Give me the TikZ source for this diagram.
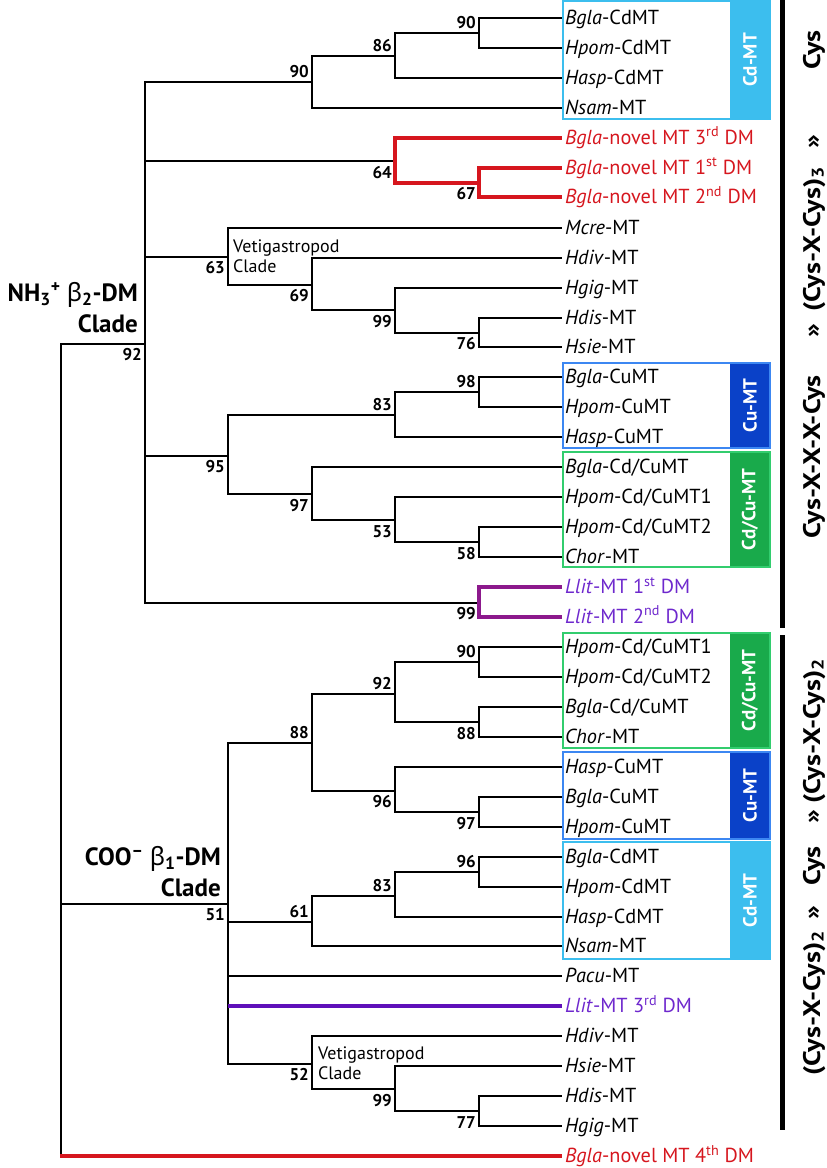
\documentclass[tikz,border=0pt]{standalone}
\usepackage{fontspec}
\setmainfont{PT Sans}
\newfontfamily\grk{Noto Sans}
\definecolor{mred}{RGB}{214,22,30}
\definecolor{mmag}{RGB}{140,25,140}
\definecolor{mvio}{RGB}{95,15,185}
\definecolor{mviot}{RGB}{110,40,205}
\definecolor{cdcol}{RGB}{60,190,238}
\definecolor{cucol}{RGB}{10,65,200}
\definecolor{cuedge}{RGB}{60,135,242}
\definecolor{cdcucol}{RGB}{25,170,75}
\definecolor{cdcuedge}{RGB}{50,205,110}
\newcommand{\lf}{\fontsize{20.3}{20.3}\selectfont}
\newcommand{\bsf}{\fontsize{17}{17}\selectfont\bfseries}
\newcommand{\bartx}[1]{\scalebox{1.18}[1]{#1}}
\begin{document}
\begin{tikzpicture}[x=1pt,y=-1pt,
  br/.style={line width=2pt, line join=miter},
  rbr/.style={line width=4pt, draw=mred, line join=miter},
  pbr/.style={line width=4pt, draw=mmag, line join=miter},
  vbr/.style={line width=4pt, draw=mvio},
  leaf/.style={anchor=west, inner xsep=3pt, inner ysep=0pt, text height=13pt, text depth=0pt, font=\lf},
  rleaf/.style={leaf, text=mred},
  vleaf/.style={leaf, text=mviot},
  bsa/.style={anchor=south east, inner sep=0pt, xshift=-3pt, yshift=4pt, font=\bsf},
  bsb/.style={anchor=north east, inner sep=0pt, xshift=-3pt, yshift=-5pt, font=\bsf},
  boxlab/.style={rotate=90, text=white, font=\fontsize{19}{19}\selectfont\bfseries, inner sep=0pt},
  cladelab/.style={anchor=south east, inner sep=0pt, align=right, font=\fontsize{25}{31}\selectfont\bfseries},
  vetlab/.style={anchor=west, inner sep=0pt, align=left, font=\fontsize{18}{20}\selectfont},
  bartext/.style={rotate=90, anchor=base, inner sep=0pt, font=\fontsize{24}{24}\selectfont\bfseries}
]
\useasboundingbox (0,0) rectangle (827,1168);

% ---------- boxes ----------
\fill[cdcol] (730,0.25) rectangle (770.75,119.75);
\draw[cdcol, line width=1.5pt] (563,1) rectangle (770,119);
\node[boxlab] (bx1) at (750,60) {Cd-MT};
\fill[cucol] (730,362.25) rectangle (770.75,448.75);
\draw[cuedge, line width=1.5pt] (563,363) rectangle (770,448);
\node[boxlab] (bx2) at (750,405.5) {Cu-MT};
\fill[cdcucol] (730,451.25) rectangle (770.75,567.75);
\draw[cdcuedge, line width=1.5pt] (563,452) rectangle (770,567);
\node[boxlab] (bx3) at (750,509.5) {Cd/Cu-MT};
\fill[cdcucol] (730,632.25) rectangle (770.75,748.75);
\draw[cdcuedge, line width=1.5pt] (563,633) rectangle (770,748);
\node[boxlab] (bx4) at (750,690.5) {Cd/Cu-MT};
\fill[cucol] (730,751.25) rectangle (770.75,839.75);
\draw[cuedge, line width=1.5pt] (563,752) rectangle (770,839);
\node[boxlab] (bx5) at (750,795.5) {Cu-MT};
\fill[cdcol] (730,841.25) rectangle (770.75,959.75);
\draw[cdcol, line width=1.5pt] (563,842) rectangle (770,959);
\node[boxlab] (bx6) at (750,900.5) {Cd-MT};

% ---------- leaves ----------
\node[leaf] (T0) at (562,18) {\textit{Bgla}-CdMT};
\node[leaf] (T1) at (562,47.95) {\textit{Hpom}-CdMT};
\node[leaf] (T2) at (562,77.9) {\textit{Hasp}-CdMT};
\node[leaf] (T3) at (562,107.85) {\textit{Nsam}-MT};
\node[rleaf] (T4) at (562,137.8) {\textit{Bgla}-novel MT 3\textsuperscript{rd} DM};
\node[rleaf] (T5) at (562,167.75) {\textit{Bgla}-novel MT 1\textsuperscript{st} DM};
\node[rleaf] (T6) at (562,197.2) {\textit{Bgla}-novel MT 2\textsuperscript{nd} DM};
\node[leaf] (T7) at (562,227.65) {\textit{Mcre}-MT};
\node[leaf] (T8) at (562,257.6) {\textit{Hdiv}-MT};
\node[leaf] (T9) at (562,287.55) {\textit{Hgig}-MT};
\node[leaf] (T10) at (562,317.5) {\textit{Hdis}-MT};
\node[leaf] (T11) at (562,347.45) {\textit{Hsie}-MT};
\node[leaf] (T12) at (562,377.4) {\textit{Bgla}-CuMT};
\node[leaf] (T13) at (562,407.35) {\textit{Hpom}-CuMT};
\node[leaf] (T14) at (562,437.3) {\textit{Hasp}-CuMT};
\node[leaf] (T15) at (562,467.25) {\textit{Bgla}-Cd/CuMT};
\node[leaf] (T16) at (562,497.2) {\textit{Hpom}-Cd/CuMT1};
\node[leaf] (T17) at (562,527.15) {\textit{Hpom}-Cd/CuMT2};
\node[leaf] (T18) at (562,557.1) {\textit{Chor}-MT};
\node[vleaf] (T19) at (562,587.05) {\textit{Llit}-MT 1\textsuperscript{st} DM};
\node[vleaf] (T20) at (562,617) {\textit{Llit}-MT 2\textsuperscript{nd} DM};
\node[leaf] (T21) at (562,646.95) {\textit{Hpom}-Cd/CuMT1};
\node[leaf] (T22) at (562,676.9) {\textit{Hpom}-Cd/CuMT2};
\node[leaf] (T23) at (562,706.85) {\textit{Bgla}-Cd/CuMT};
\node[leaf] (T24) at (562,736.8) {\textit{Chor}-MT};
\node[leaf] (T25) at (562,766.75) {\textit{Hasp}-CuMT};
\node[leaf] (T26) at (562,796.7) {\textit{Bgla}-CuMT};
\node[leaf] (T27) at (562,826.65) {\textit{Hpom}-CuMT};
\node[leaf] (T28) at (562,856.6) {\textit{Bgla}-CdMT};
\node[leaf] (T29) at (562,886.55) {\textit{Hpom}-CdMT};
\node[leaf] (T30) at (562,916.5) {\textit{Hasp}-CdMT};
\node[leaf] (T31) at (562,946.45) {\textit{Nsam}-MT};
\node[leaf] (T32) at (562,976.4) {\textit{Pacu}-MT};
\node[vleaf] (T33) at (562,1006.35) {\textit{Llit}-MT 3\textsuperscript{rd} DM};
\node[leaf] (T34) at (562,1036.3) {\textit{Hdiv}-MT};
\node[leaf] (T35) at (562,1066.25) {\textit{Hsie}-MT};
\node[leaf] (T36) at (562,1096.2) {\textit{Hdis}-MT};
\node[leaf] (T37) at (562,1126.15) {\textit{Hgig}-MT};
\node[rleaf] (T38) at (562,1156.1) {\textit{Bgla}-novel MT 4\textsuperscript{th} DM};

% ---------- internal nodes ----------
\coordinate (n90a) at (479,33);
\coordinate (n86) at (395,55.5);
\coordinate (n90b) at (312,82);
\coordinate (n67) at (479,182.5);
\coordinate (n64) at (395,161);
\coordinate (n76) at (479,332.5);
\coordinate (n99a) at (395,310);
\coordinate (n69) at (312,284.5);
\coordinate (n63) at (228,256.5);
\coordinate (n98) at (479,392.4);
\coordinate (n83a) at (395,415);
\coordinate (n58) at (479,542.1);
\coordinate (n53) at (395,520);
\coordinate (n97a) at (312,494);
\coordinate (n95) at (228,455.5);
\coordinate (n99b) at (479,602.5);
\coordinate (nNH) at (145,343.5);
\coordinate (n90c) at (479,661.9);
\coordinate (n88a) at (479,721.8);
\coordinate (n92) at (395,693.5);
\coordinate (n97b) at (479,811.7);
\coordinate (n96a) at (395,790.5);
\coordinate (n88b) at (312,743);
\coordinate (n96b) at (479,871.6);
\coordinate (n83b) at (395,895.5);
\coordinate (n61) at (312,921.5);
\coordinate (n77) at (479,1111.2);
\coordinate (n99c) at (395,1088.7);
\coordinate (n52) at (312,1063.5);
\coordinate (nCOO) at (228,903.5);
\coordinate (root) at (61,700);

% ---------- branches: upper clade ----------
\draw[br] (n90a) |- (T0.west);
\draw[br] (n90a) |- (T1.west);
\draw[br] (n86) |- (n90a);
\draw[br] (n86) |- (T2.west);
\draw[br] (n90b) |- (n86);
\draw[br] (n90b) |- (T3.west);
\draw[br] (nNH) |- (n90b);
\draw[br] (nNH) |- (n64);
\draw[rbr] (n64) |- (T4.west);
\draw[rbr] (n64) |- (n67);
\draw[rbr] (n67) |- (T5.west);
\draw[rbr] (n67) |- (T6.west);
\draw[br] (n76) |- (T10.west);
\draw[br] (n76) |- (T11.west);
\draw[br] (n99a) |- (T9.west);
\draw[br] (n99a) |- (n76);
\draw[br] (n69) |- (T8.west);
\draw[br] (n69) |- (n99a);
\draw[br] (n63) |- (T7.west);
\draw[br] (n63) |- (n69);
\draw[br] (nNH) |- (n63);
\draw[br] (n98) |- (T12.west);
\draw[br] (n98) |- (T13.west);
\draw[br] (n83a) |- (n98);
\draw[br] (n83a) |- (T14.west);
\draw[br] (n58) |- (T17.west);
\draw[br] (n58) |- (T18.west);
\draw[br] (n53) |- (T16.west);
\draw[br] (n53) |- (n58);
\draw[br] (n97a) |- (T15.west);
\draw[br] (n97a) |- (n53);
\draw[br] (n95) |- (n83a);
\draw[br] (n95) |- (n97a);
\draw[br] (nNH) |- (n95);
\draw[br] (nNH) |- (n99b);
\draw[pbr] (n99b) |- (T19.west);
\draw[pbr] (n99b) |- (T20.west);

% ---------- branches: lower clade ----------
\draw[br] (n90c) |- (T21.west);
\draw[br] (n90c) |- (T22.west);
\draw[br] (n88a) |- (T23.west);
\draw[br] (n88a) |- (T24.west);
\draw[br] (n92) |- (n90c);
\draw[br] (n92) |- (n88a);
\draw[br] (n97b) |- (T26.west);
\draw[br] (n97b) |- (T27.west);
\draw[br] (n96a) |- (T25.west);
\draw[br] (n96a) |- (n97b);
\draw[br] (n88b) |- (n92);
\draw[br] (n88b) |- (n96a);
\draw[br] (n96b) |- (T28.west);
\draw[br] (n96b) |- (T29.west);
\draw[br] (n83b) |- (n96b);
\draw[br] (n83b) |- (T30.west);
\draw[br] (n61) |- (n83b);
\draw[br] (n61) |- (T31.west);
\draw[br] (n77) |- (T36.west);
\draw[br] (n77) |- (T37.west);
\draw[br] (n99c) |- (T35.west);
\draw[br] (n99c) |- (n77);
\draw[br] (n52) |- (T34.west);
\draw[br] (n52) |- (n99c);
\draw[br] (nCOO) |- (n88b);
\draw[br] (nCOO) |- (n61);
\draw[br] (nCOO) |- (T32.west);
\draw[br] (nCOO) |- (n52);
\draw[vbr] (nCOO |- T33.west) -- (T33.west);

% ---------- root ----------
\draw[br] (root) |- (nNH);
\draw[br] (root) |- (nCOO);
\draw[br] (root) -- (root |- T38.west);
\draw[rbr] ([xshift=-1pt]root |- T38.west) -- (T38.west);

% ---------- bootstrap values ----------
\node[bsa] (b1) at (n90a) {90};
\node[bsa] (b2) at (n86) {86};
\node[bsa] (b3) at (n90b) {90};
\node[bsb] (b4) at (n64) {64};
\node[bsb] (b5) at (n67) {67};
\node[bsb] (b6) at (n63) {63};
\node[bsb] (b7) at (n69) {69};
\node[bsb] (b8) at (n99a) {99};
\node[bsb] (b9) at (n76) {76};
\node[bsb] (b10) at (nNH) {92};
\node[bsa] (b11) at (n83a) {83};
\node[bsa] (b12) at (n98) {98};
\node[bsb] (b13) at (n95) {95};
\node[bsb] (b14) at (n97a) {97};
\node[bsb] (b15) at (n53) {53};
\node[bsb] (b16) at (n58) {58};
\node[bsb] (b17) at (n99b) {99};
\node[bsa] (b18) at (n92) {92};
\node[bsa] (b19) at (n88b) {88};
\node[bsa] (b20) at (n90c) {90};
\node[bsb] (b21) at (n88a) {88};
\node[bsb] (b22) at (n96a) {96};
\node[bsb] (b23) at (n97b) {97};
\node[bsa] (b24) at (n96b) {96};
\node[bsa] (b25) at (n83b) {83};
\node[bsa] (b26) at (n61) {61};
\node[bsb] (b27) at (nCOO) {51};
\node[bsb] (b28) at (n52) {52};
\node[bsb] (b29) at (n99c) {99};
\node[bsb] (b30) at (n77) {77};

% ---------- clade labels ----------
\node[vetlab] (vet1) at (233,256.5) {Vetigastropod\\Clade};
\node[vetlab] (vet2) at (318,1063.5) {Vetigastropod\\Clade};
\node[cladelab] (nhlab) at (138,333) {NH\textsubscript{3}\textsuperscript{+} {\grk β}\textsubscript{2}-DM\\Clade};
\node[cladelab] (coolab) at (221,897) {COO\textsuperscript{\textendash} {\grk β}\textsubscript{1}-DM\\Clade};

% ---------- right bars ----------
\draw[line width=5pt] (782,0) -- (782,628);
\draw[line width=5pt] (782,635) -- (782,1130);
\node[bartext] (s1) at (820,457) {\bartx{Cys-X-X-X-Cys}};
\node[bartext] (s2) at (820,331) {\bartx{»}};
\node[bartext] (s3) at (820,239) {\bartx{(Cys-X-Cys)\textsubscript{3}}};
\node[bartext] (s4) at (820,142) {\bartx{»}};
\node[bartext] (s5) at (820,50) {\bartx{Cys}};
\node[bartext] (s6) at (820,1003) {\bartx{(Cys-X-Cys)\textsubscript{2}}};
\node[bartext] (s7) at (820,913) {\bartx{»}};
\node[bartext] (s8) at (820,866) {\bartx{Cys}};
\node[bartext] (s9) at (820,817) {\bartx{»}};
\node[bartext] (s10) at (820,731) {\bartx{(Cys-X-Cys)\textsubscript{2}}};
\end{tikzpicture}
\end{document}
